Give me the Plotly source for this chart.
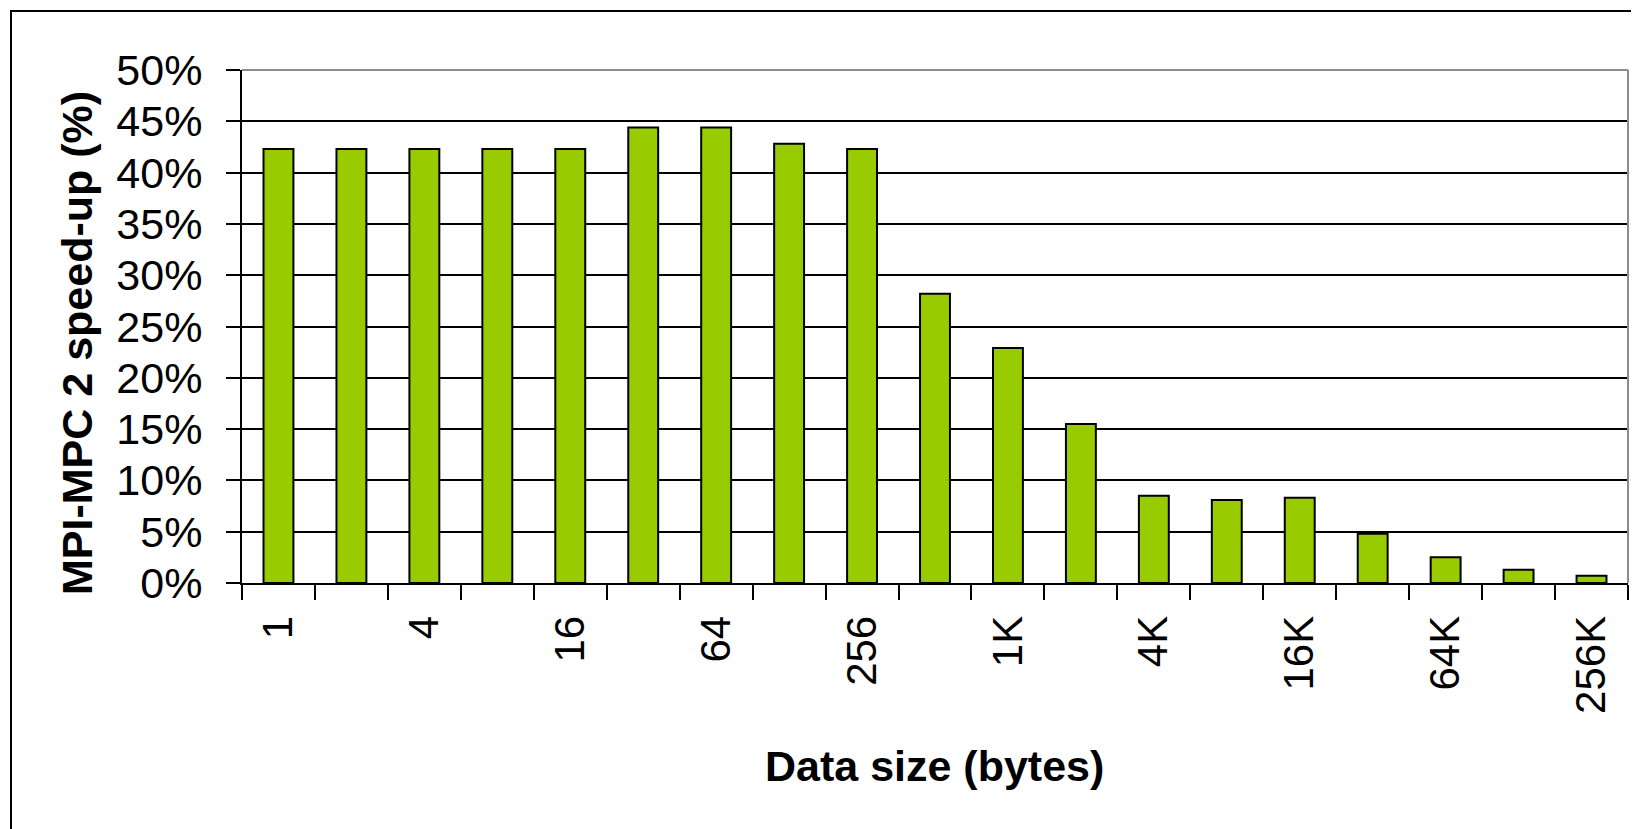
import plotly.graph_objects as go

categories = ["1", "2", "4", "8", "16", "32", "64", "128", "256", "512",
              "1K", "2K", "4K", "8K", "16K", "32K", "64K", "128K", "256K"]
tick_labels = ["1", "", "4", "", "16", "", "64", "", "256", "",
               "1K", "", "4K", "", "16K", "", "64K", "", "256K"]
speedup_pct = [42.3, 42.3, 42.3, 42.3, 42.3, 44.4, 44.4, 42.8, 42.3, 28.2,
               22.9, 15.5, 8.5, 8.1, 8.3, 4.8, 2.5, 1.3, 0.7]
y_ticks = [0, 5, 10, 15, 20, 25, 30, 35, 40, 45, 50]
y_tick_labels = ["0%", "5%", "10%", "15%", "20%", "25%", "30%", "35%", "40%", "45%", "50%"]

W, H = 1639, 829
OFF = 8  # browser body margin
PL, PT, PR, PB = 242, 70, 1628, 583  # plot area in page pixels
L = PL - OFF
T = PT - OFF
R = W - (PR - OFF)
B = H - (PB - OFF)
pw = PR - PL
ph = PB - PT

def px_x(p):
    return (p - PL) / pw

def px_y(p):
    return (PB - p) / ph

FONT = "Liberation Sans, Arial, sans-serif"

fig = go.Figure()
fig.add_trace(go.Bar(
    x=categories, y=speedup_pct,
    marker=dict(color="#99CC00", line=dict(color="black", width=2)),
    hoverinfo="x+y",
))

fig.update_layout(
    width=W, height=H,
    margin=dict(l=L, r=R, t=T, b=B, pad=0, autoexpand=False),
    paper_bgcolor="white", plot_bgcolor="white",
    bargap=0.59, showlegend=False,
    font=dict(family=FONT, color="black"),
    xaxis=dict(
        type="category", tickmode="array", tickvals=categories, ticktext=tick_labels,
        tickson="boundaries", ticks="outside", ticklen=15, tickwidth=2, tickcolor="black",
        tickangle=-90, tickfont=dict(size=42, family=FONT, color="black"),
        showline=True, linecolor="black", linewidth=2, showgrid=False,
        ticklabelstandoff=14, automargin=False,
    ),
    yaxis=dict(
        range=[0, 50], tickmode="array", tickvals=y_ticks, ticktext=y_tick_labels,
        ticks="outside", ticklen=14, tickwidth=2, tickcolor="black",
        tickfont=dict(size=43, family=FONT, color="black"),
        showline=True, linecolor="black", linewidth=2,
        showgrid=True, gridcolor="black", gridwidth=1.8, zeroline=False,
        ticklabelstandoff=15, automargin=False,
    ),
    annotations=[
        dict(text="<b>MPI-MPC 2 speed-up (%)</b>", xref="paper", yref="paper",
             x=px_x(77), y=px_y(343), xanchor="center", yanchor="middle",
             textangle=-90, showarrow=False, font=dict(size=43, family=FONT, color="black")),
        dict(text="<b>Data size (bytes)</b>", xref="paper", yref="paper",
             x=px_x(934), y=px_y(766), xanchor="center", yanchor="middle",
             showarrow=False, font=dict(size=43, family=FONT, color="black")),
    ],
    shapes=[
        dict(type="line", xref="paper", yref="paper", x0=0, x1=1, y0=1, y1=1,
             line=dict(color="#8c8c8c", width=2), layer="above"),
        dict(type="line", xref="paper", yref="paper", x0=1, x1=1, y0=0, y1=1,
             line=dict(color="#8c8c8c", width=2), layer="above"),
        dict(type="rect", xref="paper", yref="paper",
             x0=px_x(11), x1=px_x(W + 30), y0=px_y(11), y1=px_y(H + 30),
             line=dict(color="black", width=2), fillcolor="rgba(0,0,0,0)", layer="above"),
    ],
)

fig.write_html("out.html")
